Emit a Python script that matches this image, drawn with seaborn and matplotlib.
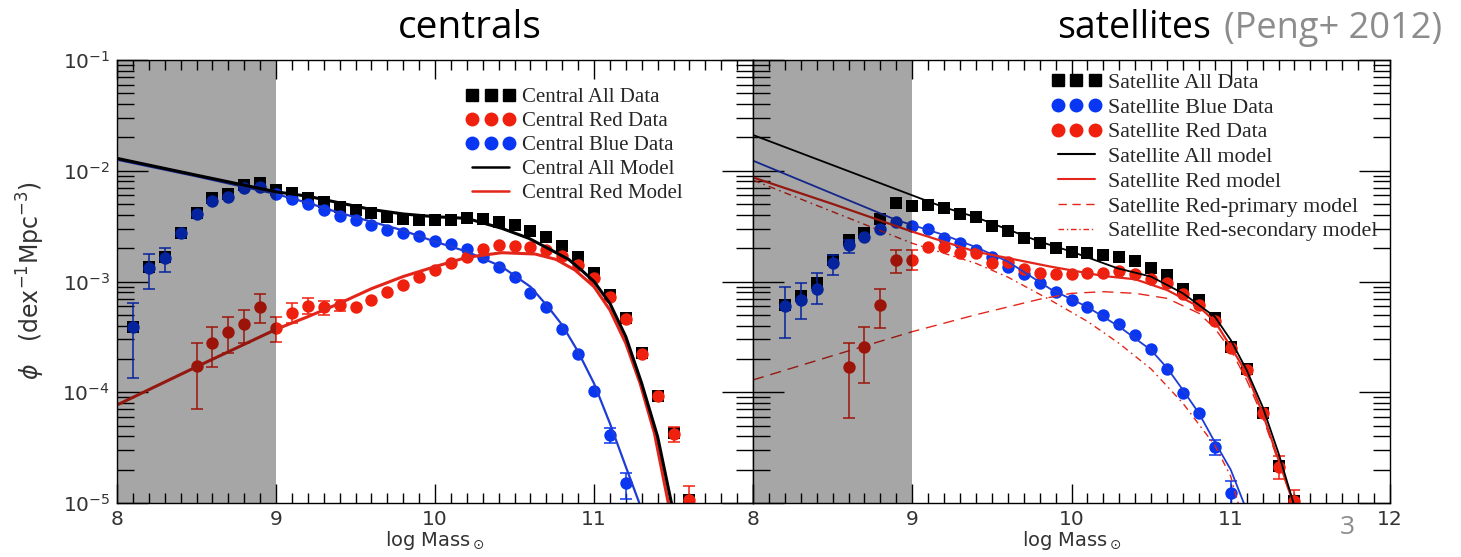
import numpy as np
import pandas as pd
import seaborn as sns
import matplotlib.pyplot as plt
from matplotlib.lines import Line2D
from matplotlib.ticker import LogLocator, MultipleLocator, NullFormatter

# ---------------- centrals: data points (log10 phi) ----------------
cen_all_x = [8.1, 8.2, 8.3, 8.4, 8.5, 8.6, 8.7, 8.8, 8.9, 9.0, 9.1, 9.2, 9.3, 9.4, 9.5, 9.6, 9.7, 9.8,
             9.9, 10.0, 10.1, 10.2, 10.3, 10.4, 10.5, 10.6, 10.7, 10.8, 10.9, 11.0, 11.1, 11.2, 11.3,
             11.4, 11.5, 11.6]
cen_all_y = [-3.41, -2.87, -2.78, -2.565, -2.378, -2.249, -2.21, -2.129, -2.114, -2.174, -2.204, -2.243,
             -2.285, -2.324, -2.354, -2.384, -2.415, -2.438, -2.445, -2.445, -2.445, -2.43, -2.438,
             -2.46, -2.49, -2.541, -2.595, -2.68, -2.782, -2.926, -3.122, -3.332, -3.648, -4.034,
             -4.371, -4.973]

cen_blue_x = cen_all_x[:32]
cen_blue_y = [-3.408, -2.881, -2.79, -2.565, -2.39, -2.27, -2.234, -2.159, -2.144, -2.21, -2.258, -2.303,
              -2.354, -2.406, -2.445, -2.49, -2.535, -2.559, -2.586, -2.631, -2.661, -2.707, -2.782,
              -2.866, -2.962, -3.10, -3.233, -3.432, -3.655, -3.986, -4.386, -4.823]
cen_blue_err_x = [8.1, 8.2, 8.3, 11.1, 11.2]
cen_blue_err_lo = [-3.87, -3.07, -2.91, -4.456, -4.96]
cen_blue_err_hi = [-3.19, -2.755, -2.70, -4.326, -4.73]

cen_red_x = cen_all_x[4:]
cen_red_y = [-3.763, -3.558, -3.459, -3.384, -3.227, -3.423, -3.282, -3.221, -3.227, -3.212, -3.227,
             -3.167, -3.092, -3.032, -2.962, -2.896, -2.836, -2.782, -2.707, -2.67, -2.68, -2.691,
             -2.716, -2.77, -2.851, -2.971, -3.143, -3.341, -3.655, -4.034, -4.377, -4.973]
cen_red_err_x = [8.5, 8.6, 8.7, 8.8, 8.9, 9.0, 9.1, 9.2, 9.3, 9.4, 11.5, 11.6]
cen_red_err_lo = [-4.154, -3.775, -3.643, -3.558, -3.372, -3.549, -3.377, -3.294, -3.302, -3.27, -4.445, -5.14]
cen_red_err_hi = [-3.558, -3.408, -3.318, -3.257, -3.113, -3.318, -3.197, -3.152, -3.173, -3.17, -4.31, -4.846]

# ---------------- centrals: model curves (log10 phi) ----------------
cen_mod_all_x = [8.0, 8.5, 9.0, 9.2, 9.4, 9.6, 9.8, 10.0, 10.2, 10.42, 10.59, 10.71, 10.84, 10.92,
                 11.0, 11.1, 11.2, 11.3, 11.4, 11.49]
cen_mod_all_y = [-1.888, -2.04, -2.19, -2.23, -2.29, -2.35, -2.39, -2.415, -2.43, -2.52, -2.61, -2.70,
                 -2.80, -2.896, -3.0, -3.197, -3.498, -3.92, -4.40, -5.02]

cen_mod_red_x = [8.0, 8.5, 9.0, 9.2, 9.4, 9.6, 9.8, 10.0, 10.2, 10.42, 10.63, 10.76, 10.88, 11.0,
                 11.1, 11.2, 11.29, 11.38, 11.47]
cen_mod_red_y = [-4.115, -3.77, -3.432, -3.318, -3.197, -3.065, -2.955, -2.866, -2.782, -2.74, -2.752,
                 -2.80, -2.896, -3.047, -3.257, -3.558, -3.92, -4.37, -5.02]

cen_mod_blue_x = [8.0, 8.5, 9.0, 9.2, 9.4, 9.6, 9.79, 10.0, 10.2, 10.42, 10.6, 10.71, 10.8, 10.9,
                  11.0, 11.1, 11.2, 11.29]
cen_mod_blue_y = [-1.90, -2.05, -2.21, -2.29, -2.38, -2.46, -2.535, -2.64, -2.73, -2.866, -3.047,
                  -3.227, -3.393, -3.634, -3.92, -4.281, -4.672, -5.02]

# ---------------- satellites: data points (log10 phi) ----------------
sat_all_x = [8.2, 8.3, 8.4, 8.5, 8.6, 8.7, 8.8, 8.9, 9.0, 9.1, 9.2, 9.3, 9.4, 9.5, 9.6, 9.7, 9.8, 9.9,
             10.0, 10.1, 10.2, 10.3, 10.4, 10.5, 10.6, 10.7, 10.8, 10.9, 11.0, 11.1, 11.2, 11.3, 11.4]
sat_all_y = [-3.212, -3.131, -3.017, -2.806, -2.625, -2.559, -2.438, -2.294, -2.318, -2.309, -2.339,
             -2.393, -2.42, -2.499, -2.544, -2.61, -2.655, -2.70, -2.731, -2.746, -2.761, -2.776,
             -2.812, -2.881, -2.941, -3.07, -3.167, -3.332, -3.589, -3.793, -4.19, -4.666, -4.98]

sat_blue_x = sat_all_x[:29]
sat_blue_y = [-3.22, -3.167, -3.07, -2.83, -2.67, -2.601, -2.529, -2.46, -2.499, -2.529, -2.61, -2.65,
              -2.716, -2.776, -2.866, -2.932, -3.01, -3.092, -3.167, -3.233, -3.302, -3.384, -3.483,
              -3.612, -3.793, -4.01, -4.19, -4.492, -4.913]
sat_blue_err_x = [8.2, 8.3, 8.4, 8.5, 8.6, 10.9, 11.0]
sat_blue_err_lo = [-3.513, -3.341, -3.206, -2.94, -2.74, -4.567, -5.02]
sat_blue_err_hi = [-3.047, -3.017, -2.926, -2.76, -2.625, -4.43, -4.80]

sat_red_x = sat_all_x[4:]
sat_red_y = [-3.775, -3.594, -3.212, -2.806, -2.806, -2.691, -2.685, -2.746, -2.74, -2.83, -2.821,
             -2.89, -2.92, -2.932, -2.932, -2.92, -2.92, -2.902, -2.932, -2.98, -3.017, -3.113,
             -3.212, -3.353, -3.604, -3.80, -4.19, -4.672, -4.98]
sat_red_err_x = [8.6, 8.7, 8.8, 8.9, 9.0, 11.3, 11.4]
sat_red_err_lo = [-4.236, -3.92, -3.42, -2.92, -2.896, -4.78, -5.23]
sat_red_err_hi = [-3.553, -3.41, -3.07, -2.716, -2.72, -4.58, -4.88]

# ---------------- satellites: model curves (log10 phi) ----------------
sat_mod_all_x = [8.0, 9.05, 9.2, 9.4, 9.6, 9.8, 10.0, 10.29, 10.5, 10.7, 10.9, 11.0, 11.1, 11.2, 11.3, 11.4]
sat_mod_all_y = [-1.677, -2.249, -2.33, -2.42, -2.53, -2.64, -2.73, -2.881, -2.956, -3.107, -3.318,
                 -3.528, -3.80, -4.13, -4.55, -5.03]

sat_mod_blue_x = [8.0, 8.9, 9.0, 9.2, 9.4, 9.6, 9.87, 10.1, 10.3, 10.5, 10.6, 10.7, 10.8, 10.9, 11.0, 11.09]
sat_mod_blue_y = [-1.909, -2.445, -2.49, -2.58, -2.69, -2.82, -3.07, -3.23, -3.408, -3.62, -3.78, -3.98,
                  -4.19, -4.45, -4.70, -5.03]

sat_mod_red_x = [8.0, 8.5, 9.0, 9.4, 9.87, 10.2, 10.4, 10.6, 10.8, 10.9, 11.0, 11.1, 11.2, 11.3, 11.4]
sat_mod_red_y = [-2.06, -2.30, -2.55, -2.731, -2.866, -2.95, -2.98, -3.077, -3.227, -3.36, -3.589,
                 -3.83, -4.19, -4.61, -5.03]

sat_mod_prim_x = [8.0, 8.5, 9.0, 9.4, 9.8, 10.0, 10.2, 10.4, 10.6, 10.8, 10.9, 11.0, 11.1, 11.2, 11.3, 11.4]
sat_mod_prim_y = [-3.889, -3.67, -3.453, -3.30, -3.16, -3.107, -3.092, -3.107, -3.152, -3.287, -3.423,
                  -3.618, -3.889, -4.22, -4.63, -5.03]

sat_mod_sec_x = [8.0, 8.5, 9.0, 9.4, 9.6, 9.87, 10.1, 10.3, 10.5, 10.7, 10.9, 11.0, 11.05]
sat_mod_sec_y = [-2.084, -2.37, -2.655, -2.836, -2.96, -3.17, -3.36, -3.56, -3.79, -4.10, -4.48,
                 -4.76, -5.02]

RED = '#f0200e'
BLUE = '#0836f2'
LRED = '#e4261a'
LBLUE = '#1e3cd6'

sns.set_style("ticks")
plt.rcParams['font.family'] = ['DejaVu Sans']
plt.rcParams['mathtext.fontset'] = 'dejavusans'

fig = plt.figure(figsize=(14.61, 5.57), dpi=100)
ax_c = fig.add_axes([117 / 1461, 54 / 557, 636 / 1461, 443 / 557])
ax_s = fig.add_axes([753 / 1461, 54 / 557, 637 / 1461, 443 / 557])


def pts(ax, x, y, marker, color, z):
    sns.scatterplot(x=x, y=10 ** np.array(y), ax=ax, marker=marker, s=80, color=color,
                    linewidth=0, zorder=z, legend=False)


def errs(ax, x, lo, hi, color, z):
    lo = 10 ** np.array(lo)
    hi = 10 ** np.array(hi)
    mid = np.sqrt(lo * hi)
    ax.errorbar(x, mid, yerr=[mid - lo, hi - mid], fmt='none', ecolor=color, elinewidth=1.1,
                capsize=4.5, capthick=1.1, zorder=z)


def curve(ax, x, y, color, lw, z, ls='-'):
    sns.lineplot(x=x, y=10 ** np.array(y), ax=ax, color=color, linewidth=lw, linestyle=ls,
                 zorder=z, legend=False)


# centrals
pts(ax_c, cen_all_x, cen_all_y, 's', 'black', 3)
errs(ax_c, cen_blue_err_x, cen_blue_err_lo, cen_blue_err_hi, BLUE, 3.5)
pts(ax_c, cen_blue_x, cen_blue_y, 'o', BLUE, 4)
errs(ax_c, cen_red_err_x, cen_red_err_lo, cen_red_err_hi, RED, 4.5)
pts(ax_c, cen_red_x, cen_red_y, 'o', RED, 5)
curve(ax_c, cen_mod_blue_x, cen_mod_blue_y, LBLUE, 1.6, 6)
curve(ax_c, cen_mod_red_x, cen_mod_red_y, LRED, 2.2, 6.2)
curve(ax_c, cen_mod_all_x, cen_mod_all_y, 'black', 2.2, 6.4)

# satellites
pts(ax_s, sat_all_x, sat_all_y, 's', 'black', 3)
errs(ax_s, sat_blue_err_x, sat_blue_err_lo, sat_blue_err_hi, BLUE, 3.5)
pts(ax_s, sat_blue_x, sat_blue_y, 'o', BLUE, 4)
errs(ax_s, sat_red_err_x, sat_red_err_lo, sat_red_err_hi, RED, 4.5)
pts(ax_s, sat_red_x, sat_red_y, 'o', RED, 5)
curve(ax_s, sat_mod_sec_x, sat_mod_sec_y, LRED, 1.0, 6, (0, (5, 3, 1.2, 3)))
curve(ax_s, sat_mod_prim_x, sat_mod_prim_y, LRED, 1.0, 6, (0, (8, 5)))
curve(ax_s, sat_mod_blue_x, sat_mod_blue_y, LBLUE, 1.3, 6.1)
curve(ax_s, sat_mod_red_x, sat_mod_red_y, LRED, 1.6, 6.2)
curve(ax_s, sat_mod_all_x, sat_mod_all_y, 'black', 1.3, 6.4)

for ax in (ax_c, ax_s):
    ax.set_yscale('log')
    ax.set_xlim(8, 12)
    ax.set_ylim(1e-5, 1e-1)
    # shaded low-mass region, drawn over the points
    ax.axvspan(8, 9, color='black', alpha=0.35, linewidth=0, zorder=8)
    ax.xaxis.set_minor_locator(MultipleLocator(0.1))
    ax.yaxis.set_major_locator(LogLocator(base=10, numticks=10))
    ax.yaxis.set_minor_locator(LogLocator(base=10, subs=np.arange(2, 10), numticks=20))
    ax.yaxis.set_minor_formatter(NullFormatter())
    ax.tick_params(which='both', direction='in', top=True, right=True, width=1, color='black',
                   labelcolor='#333333')
    ax.tick_params(axis='x', which='major', length=14, pad=5, labelsize=14.5)
    ax.tick_params(axis='x', which='minor', length=7)
    ax.tick_params(axis='y', which='major', length=22, pad=5, labelsize=14.5)
    ax.tick_params(axis='y', which='minor', length=12)
    for sp in ax.spines.values():
        sp.set_linewidth(1)
        sp.set_color('black')
        sp.set_zorder(9)
    ax.set_xlabel(r'log Mass$_\odot$', fontsize=14, color='#333333', labelpad=0)
    ax.set_ylabel('')

ax_c.set_xticks([8, 9, 10, 11, 12], ['8', '9', '10', '11', ''])
ax_s.set_xticks([8, 9, 10, 11, 12], ['8', '9', '10', '11', '12'])
ax_s.tick_params(axis='y', which='both', labelleft=False)

fig.text(0.021, 0.497, r'$\phi$   (dex$^{-1}$Mpc$^{-3}$)', rotation=90, ha='center', va='center',
         fontsize=17, color='#333333')

# legends
h_c = [Line2D([0], [0], marker='s', ls='none', color='black', ms=9),
       Line2D([0], [0], marker='o', ls='none', color=RED, ms=9),
       Line2D([0], [0], marker='o', ls='none', color=BLUE, ms=9),
       Line2D([0], [0], color='black', lw=1.8),
       Line2D([0], [0], color=LRED, lw=1.8)]
l_c = ['Central All Data', 'Central Red Data', 'Central Blue Data', 'Central All Model',
       'Central Red Model']
ax_c.legend(h_c, l_c, loc='upper left', bbox_to_anchor=(0.548, 0.937), frameon=False, numpoints=3,
            prop={'family': 'Liberation Serif', 'size': 15}, labelspacing=0.21, handlelength=2.4,
            handletextpad=0.3, borderaxespad=0, borderpad=0)

h_s = [Line2D([0], [0], marker='s', ls='none', color='black', ms=9),
       Line2D([0], [0], marker='o', ls='none', color=BLUE, ms=9),
       Line2D([0], [0], marker='o', ls='none', color=RED, ms=9),
       Line2D([0], [0], color='black', lw=1.5),
       Line2D([0], [0], color=LRED, lw=1.5),
       Line2D([0], [0], color=LRED, lw=1.0, ls=(0, (6, 4))),
       Line2D([0], [0], color=LRED, lw=1.0, ls=(0, (4, 2, 1, 2)))]
l_s = ['Satellite All Data', 'Satellite Blue Data', 'Satellite Red Data', 'Satellite All model',
       'Satellite Red model', 'Satellite Red-primary model', 'Satellite Red-secondary model']
ax_s.legend(h_s, l_s, loc='upper left', bbox_to_anchor=(0.468, 0.972), frameon=False, numpoints=3,
            prop={'family': 'Liberation Serif', 'size': 15.8}, labelspacing=0.2, handlelength=2.3,
            handletextpad=0.3, borderaxespad=0, borderpad=0)

# slide titles
fig.text(470 / 1461, 1 - 38 / 557, 'centrals', ha='center', va='baseline', fontsize=28,
         family='Open Sans', color='black')
fig.text(1057 / 1461, 1 - 38 / 557, 'satellites', ha='left', va='baseline', fontsize=27,
         family='Open Sans', color='black')
fig.text(1442 / 1461, 1 - 38 / 557, '(Peng+ 2012)', ha='right', va='baseline', fontsize=26,
         family='Open Sans', color='#8c8c8c')
fig.text(1347 / 1461, 1 - 527 / 557, '3', ha='center', va='center', fontsize=19,
         family='Open Sans', color='#8c8c8c')

fig.savefig('out.png', dpi=100)
